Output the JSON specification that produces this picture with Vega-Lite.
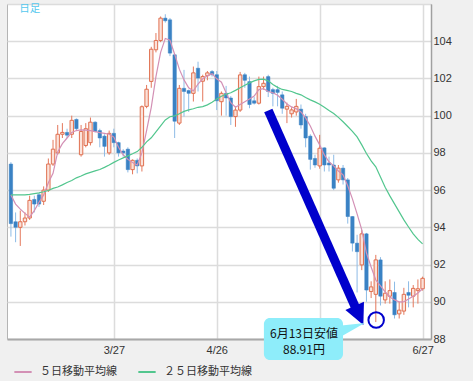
{
  "$schema": "https://vega.github.io/schema/vega-lite/v6.json",
  "width": 424,
  "height": 335,
  "autosize": {"type": "none"},
  "padding": {"left": 7, "top": 4, "right": 42, "bottom": 42},
  "background": "#f0f0f0",
  "config": {
    "view": {"fill": "#ffffff", "stroke": "#b4b4b4", "strokeWidth": 1},
    "font": "Liberation Sans",
    "axis": {"labelOverlap": false, "labelBound": false, "labelFlush": false}
  },
  "datasets": {
    "candles": [
      {"i":0,"o":97.4,"h":97.5,"l":93.5,"c":94.2,"m5":95.74,"m25":95.74},
      {"i":1,"o":94.3,"h":94.8,"l":93.2,"c":94.0,"m5":95.25,"m25":95.74},
      {"i":2,"o":94.0,"h":94.9,"l":93.0,"c":94.3,"m5":94.98,"m25":95.74},
      {"i":3,"o":94.3,"h":94.8,"l":94.1,"c":94.5,"m5":94.75,"m25":95.74},
      {"i":4,"o":94.5,"h":95.7,"l":94.4,"c":95.45,"m5":94.55,"m25":95.77},
      {"i":5,"o":95.5,"h":95.7,"l":94.8,"c":95.25,"m5":94.9,"m25":95.81},
      {"i":6,"o":95.75,"h":95.85,"l":95.1,"c":95.25,"m5":95.35,"m25":95.85},
      {"i":7,"o":95.4,"h":96.2,"l":95.2,"c":96.0,"m5":95.74,"m25":95.91},
      {"i":8,"o":96.0,"h":97.7,"l":95.9,"c":97.4,"m5":96.4,"m25":95.98},
      {"i":9,"o":97.4,"h":98.7,"l":97.3,"c":98.2,"m5":96.9,"m25":96.09},
      {"i":10,"o":98.0,"h":99.5,"l":97.9,"c":99.0,"m5":98.05,"m25":96.17},
      {"i":11,"o":99.0,"h":99.6,"l":98.8,"c":99.1,"m5":98.5,"m25":96.28},
      {"i":12,"o":99.1,"h":99.3,"l":98.8,"c":98.95,"m5":98.8,"m25":96.41},
      {"i":13,"o":99.0,"h":100.0,"l":98.8,"c":99.75,"m5":99.1,"m25":96.52},
      {"i":14,"o":99.8,"h":99.85,"l":99.2,"c":99.3,"m5":99.2,"m25":96.66},
      {"i":15,"o":97.9,"h":99.5,"l":97.8,"c":99.15,"m5":99.24,"m25":96.76},
      {"i":16,"o":98.4,"h":99.6,"l":98.3,"c":99.3,"m5":99.22,"m25":96.87},
      {"i":17,"o":98.55,"h":99.9,"l":98.4,"c":99.65,"m5":99.2,"m25":96.95},
      {"i":18,"o":99.65,"h":99.7,"l":99.1,"c":99.15,"m5":99.14,"m25":97.03},
      {"i":19,"o":99.2,"h":99.3,"l":98.3,"c":98.8,"m5":99.09,"m25":97.11},
      {"i":20,"o":98.9,"h":99.0,"l":97.8,"c":98.35,"m5":99.05,"m25":97.22},
      {"i":21,"o":98.0,"h":99.2,"l":97.9,"c":99.05,"m5":99.0,"m25":97.35},
      {"i":22,"o":99.05,"h":99.3,"l":98.3,"c":98.55,"m5":98.85,"m25":97.49},
      {"i":23,"o":98.55,"h":98.6,"l":97.8,"c":98.0,"m5":98.3,"m25":97.62},
      {"i":24,"o":98.1,"h":98.2,"l":97.8,"c":98.0,"m5":97.9,"m25":97.73},
      {"i":25,"o":98.2,"h":98.3,"l":96.95,"c":97.1,"m5":97.65,"m25":97.84},
      {"i":26,"o":97.1,"h":97.65,"l":96.85,"c":97.6,"m5":97.48,"m25":97.95},
      {"i":27,"o":97.6,"h":97.7,"l":96.9,"c":97.3,"m5":97.35,"m25":98.07},
      {"i":28,"o":97.3,"h":100.55,"l":97.0,"c":100.48,"m5":98.0,"m25":98.3},
      {"i":29,"o":100.5,"h":101.65,"l":100.4,"c":101.42,"m5":99.2,"m25":98.59},
      {"i":30,"o":101.84,"h":103.7,"l":101.5,"c":103.57,"m5":100.45,"m25":98.81},
      {"i":31,"o":103.54,"h":104.44,"l":103.4,"c":104.04,"m5":102.1,"m25":99.13},
      {"i":32,"o":104.04,"h":105.33,"l":103.95,"c":105.24,"m5":103.4,"m25":99.45},
      {"i":33,"o":105.24,"h":105.45,"l":105.0,"c":105.1,"m5":104.15,"m25":99.77},
      {"i":34,"o":105.15,"h":105.25,"l":103.2,"c":103.36,"m5":104.05,"m25":99.94},
      {"i":35,"o":103.27,"h":103.3,"l":98.8,"c":99.7,"m5":103.3,"m25":99.99},
      {"i":36,"o":99.6,"h":101.65,"l":99.5,"c":101.47,"m5":102.5,"m25":100.1},
      {"i":37,"o":101.47,"h":102.46,"l":99.95,"c":101.3,"m5":101.92,"m25":100.23},
      {"i":38,"o":101.35,"h":101.4,"l":100.2,"c":101.2,"m5":101.5,"m25":100.31},
      {"i":39,"o":101.2,"h":102.64,"l":100.76,"c":102.3,"m5":101.33,"m25":100.37},
      {"i":40,"o":102.55,"h":102.9,"l":101.3,"c":102.02,"m5":101.7,"m25":100.45},
      {"i":41,"o":101.85,"h":102.2,"l":100.76,"c":102.1,"m5":101.98,"m25":100.49},
      {"i":42,"o":102.15,"h":102.4,"l":101.9,"c":102.3,"m5":102.14,"m25":100.58},
      {"i":43,"o":102.37,"h":102.45,"l":102.1,"c":102.2,"m5":102.25,"m25":100.72},
      {"i":44,"o":102.2,"h":102.4,"l":100.3,"c":100.8,"m5":101.98,"m25":100.9},
      {"i":45,"o":100.75,"h":101.3,"l":100.0,"c":101.2,"m5":101.8,"m25":101.04},
      {"i":46,"o":101.2,"h":101.6,"l":100.0,"c":100.95,"m5":101.23,"m25":101.15},
      {"i":47,"o":100.95,"h":101.05,"l":99.5,"c":99.95,"m5":100.7,"m25":101.23},
      {"i":48,"o":99.95,"h":100.5,"l":99.4,"c":100.3,"m5":100.45,"m25":101.36},
      {"i":49,"o":100.3,"h":102.35,"l":100.2,"c":102.19,"m5":100.6,"m25":101.5},
      {"i":50,"o":102.2,"h":102.3,"l":101.5,"c":101.9,"m5":100.75,"m25":101.63},
      {"i":51,"o":101.83,"h":102.1,"l":100.4,"c":100.6,"m5":100.9,"m25":101.76},
      {"i":52,"o":100.8,"h":101.0,"l":100.6,"c":100.67,"m5":101.05,"m25":101.87},
      {"i":53,"o":100.67,"h":102.1,"l":100.6,"c":101.56,"m5":101.4,"m25":101.95},
      {"i":54,"o":101.56,"h":102.1,"l":101.4,"c":101.74,"m5":101.45,"m25":101.96},
      {"i":55,"o":102.1,"h":102.2,"l":101.0,"c":101.3,"m5":101.3,"m25":101.87},
      {"i":56,"o":101.4,"h":101.5,"l":100.5,"c":101.2,"m5":101.23,"m25":101.68},
      {"i":57,"o":101.4,"h":101.6,"l":100.5,"c":101.25,"m5":101.1,"m25":101.52},
      {"i":58,"o":101.12,"h":101.3,"l":100.1,"c":100.4,"m5":100.88,"m25":101.41},
      {"i":59,"o":100.35,"h":100.7,"l":99.6,"c":100.5,"m5":100.63,"m25":101.36},
      {"i":60,"o":100.1,"h":100.45,"l":99.9,"c":100.31,"m5":100.47,"m25":101.3},
      {"i":61,"o":100.2,"h":100.9,"l":100.0,"c":100.5,"m5":100.37,"m25":101.2},
      {"i":62,"o":100.35,"h":100.6,"l":99.3,"c":99.5,"m5":100.2,"m25":101.12},
      {"i":63,"o":99.95,"h":100.1,"l":98.3,"c":98.8,"m5":99.88,"m25":100.98},
      {"i":64,"o":98.9,"h":99.0,"l":97.1,"c":97.65,"m5":99.45,"m25":100.85},
      {"i":65,"o":97.7,"h":97.9,"l":97.2,"c":97.35,"m5":98.9,"m25":100.74},
      {"i":66,"o":97.3,"h":98.97,"l":97.15,"c":98.25,"m5":98.43,"m25":100.61},
      {"i":67,"o":98.27,"h":98.3,"l":97.0,"c":97.35,"m5":97.89,"m25":100.45},
      {"i":68,"o":97.46,"h":97.8,"l":97.0,"c":97.35,"m5":97.52,"m25":100.28},
      {"i":69,"o":97.35,"h":97.9,"l":96.0,"c":96.1,"m5":97.3,"m25":100.12},
      {"i":70,"o":96.55,"h":97.35,"l":96.4,"c":97.18,"m5":97.03,"m25":99.91},
      {"i":71,"o":97.18,"h":97.35,"l":96.3,"c":96.55,"m5":96.82,"m25":99.67},
      {"i":72,"o":96.55,"h":96.65,"l":94.2,"c":94.58,"m5":96.23,"m25":99.42},
      {"i":73,"o":94.58,"h":94.6,"l":92.7,"c":93.15,"m5":95.53,"m25":99.16},
      {"i":74,"o":93.15,"h":93.6,"l":90.5,"c":92.69,"m5":94.72,"m25":98.86},
      {"i":75,"o":91.98,"h":93.85,"l":91.7,"c":93.65,"m5":93.86,"m25":98.43},
      {"i":76,"o":93.65,"h":93.7,"l":90.0,"c":90.63,"m5":92.62,"m25":97.97},
      {"i":77,"o":90.55,"h":91.1,"l":90.2,"c":90.8,"m5":91.87,"m25":97.57},
      {"i":78,"o":90.4,"h":92.52,"l":88.91,"c":92.25,"m5":91.17,"m25":97.25},
      {"i":79,"o":92.25,"h":92.4,"l":89.8,"c":90.3,"m5":90.85,"m25":96.71},
      {"i":80,"o":90.1,"h":91.1,"l":89.9,"c":90.46,"m5":90.53,"m25":96.15},
      {"i":81,"o":90.3,"h":91.2,"l":89.9,"c":90.6,"m5":90.26,"m25":95.69},
      {"i":82,"o":90.5,"h":91.08,"l":89.1,"c":89.3,"m5":90.1,"m25":95.26},
      {"i":83,"o":89.35,"h":90.0,"l":89.1,"c":89.55,"m5":90.0,"m25":94.83},
      {"i":84,"o":89.5,"h":90.75,"l":89.3,"c":90.4,"m5":90.0,"m25":94.4},
      {"i":85,"o":90.5,"h":91.1,"l":89.7,"c":90.35,"m5":90.15,"m25":94.02},
      {"i":86,"o":90.3,"h":90.9,"l":89.7,"c":90.72,"m5":90.3,"m25":93.65},
      {"i":87,"o":90.6,"h":91.2,"l":89.9,"c":90.7,"m5":90.47,"m25":93.35},
      {"i":88,"o":90.7,"h":91.35,"l":90.6,"c":91.26,"m5":90.7,"m25":93.11}
    ],
    "arrow": [{"i":55.02,"v":100.28,"i2":74.28,"v2":89.34}],
    "circle": [{"i":78.08,"v":89.02}],
    "box": [{"i":54.08,"i2":70.99,"v":89.13,"v2":86.87}],
    "tail": [{"i":72.66,"v":88.43}],
    "note": [{"i":62.64,"v":88.27,"t":"6月13日安値"},{"i":62.64,"v":87.41,"t":"88.91円"}],
    "tag": [{"i":4.0,"v":105.73,"t":"日足"}]
  },
  "layer": [
    {
      "data": {"name": "candles"},
      "mark": {"type": "rule", "strokeWidth": 1},
      "encoding": {
        "x": {"field": "i", "type": "quantitative", "title": null,
          "scale": {"domain": [0.23, 88.73], "nice": false, "zero": false},
          "axis": {"values": [22, 44, 66, 88], "tickCount": 40, "labelExpr": "datum.value == 22 ? '3/27' : datum.value == 44 ? '4/26' : datum.value == 88 ? '6/27' : ''",
            "grid": true, "gridColor": "#dcdcdc", "gridWidth": 1.5, "ticks": false, "domain": true, "domainColor": "#a8a8a8", "domainWidth": 2,
            "labelFont": "Liberation Sans", "labelFontSize": 11, "labelColor": "#333333", "labelPadding": 5, "labelFlush": false, "labelOverlap": false, "zindex": 0}},
        "y": {"field": "l", "type": "quantitative", "title": null,
          "scale": {"domain": [88, 106], "nice": false, "zero": false},
          "axis": {"orient": "right", "values": [88, 90, 92, 94, 96, 98, 100, 102, 104, 106], "tickCount": 40, "format": "d", "labelExpr": "datum.value == 106 ? '' : datum.label",
            "grid": true, "gridColor": "#dcdcdc", "gridWidth": 1.5, "ticks": false, "domain": true, "domainColor": "#a0a0a0", "domainWidth": 1.5,
            "labelFont": "Liberation Sans", "labelFontSize": 11, "labelColor": "#333333", "labelPadding": 2, "labelFlush": false, "labelOverlap": false, "labelBound": false, "zindex": 0}},
        "y2": {"field": "h"},
        "color": {"condition": {"test": "datum.c >= datum.o", "value": "#e4785c"}, "value": "#8dbbe6"}
      }
    },
    {
      "data": {"name": "candles"},
      "mark": {"type": "bar", "width": 3.4},
      "encoding": {
        "x": {"field": "i", "type": "quantitative", "title": null, "scale": {"domain": [0.23, 88.73], "nice": false, "zero": false}},
        "y": {"field": "o", "type": "quantitative", "title": null, "scale": {"domain": [88, 106], "nice": false, "zero": false}},
        "y2": {"field": "c"},
        "fill": {"condition": {"test": "datum.c >= datum.o", "value": "#fbe2da"}, "value": "#3a82c4"},
        "stroke": {"condition": {"test": "datum.c >= datum.o", "value": "#e07050"}, "value": "#3a82c4"},
        "strokeWidth": {"condition": {"test": "datum.c >= datum.o", "value": 1}, "value": 0.5}
      }
    },
    {
      "data": {"name": "candles"},
      "transform": [{"fold": ["m5", "m25"], "as": ["s", "v"]}],
      "mark": {"type": "line", "strokeWidth": 1.2},
      "encoding": {
        "x": {"field": "i", "type": "quantitative", "title": null, "scale": {"domain": [0.23, 88.73], "nice": false, "zero": false}},
        "y": {"field": "v", "type": "quantitative", "title": null, "scale": {"domain": [88, 106], "nice": false, "zero": false}},
        "color": {"field": "s", "type": "nominal",
          "scale": {"domain": ["m5", "m25"], "range": ["#d390b5", "#52c68e"]},
          "legend": {"orient": "none", "legendX": 6, "legendY": 358, "direction": "horizontal", "title": null,
            "symbolType": "stroke", "symbolStrokeWidth": 2, "symbolSize": 300,
            "labelExpr": "datum.value == 'm5' ? '５日移動平均線' : '２５日移動平均線'",
            "labelFont": "Noto Sans CJK JP", "labelFontSize": 11, "labelColor": "#333333", "labelOffset": 7, "columnPadding": 17, "padding": 0}}
      }
    },
    {
      "data": {"name": "arrow"},
      "mark": {"type": "rule", "strokeWidth": 9, "color": "#0000cc"},
      "encoding": {
        "x": {"field": "i", "type": "quantitative", "title": null, "scale": {"domain": [0.23, 88.73], "nice": false, "zero": false}},
        "x2": {"field": "i2"},
        "y": {"field": "v", "type": "quantitative", "title": null, "scale": {"domain": [88, 106], "nice": false, "zero": false}},
        "y2": {"field": "v2"}
      }
    },
    {
      "data": {"name": "arrow"},
      "mark": {"type": "point", "shape": "M0,1L-0.85,-0.75L0.85,-0.75Z", "size": 576, "filled": true, "opacity": 1, "color": "#0000cc", "angle": 335.6},
      "encoding": {
        "x": {"field": "i2", "type": "quantitative", "title": null, "scale": {"domain": [0.23, 88.73], "nice": false, "zero": false}},
        "y": {"field": "v2", "type": "quantitative", "title": null, "scale": {"domain": [88, 106], "nice": false, "zero": false}}
      }
    },
    {
      "data": {"name": "circle"},
      "mark": {"type": "point", "shape": "circle", "size": 240, "filled": false, "opacity": 1, "strokeWidth": 2, "color": "#0000cc"},
      "encoding": {
        "x": {"field": "i", "type": "quantitative", "title": null, "scale": {"domain": [0.23, 88.73], "nice": false, "zero": false}},
        "y": {"field": "v", "type": "quantitative", "title": null, "scale": {"domain": [88, 106], "nice": false, "zero": false}}
      }
    },
    {
      "data": {"name": "box"},
      "mark": {"type": "rect", "fill": "#8eedfa", "cornerRadius": 6},
      "encoding": {
        "x": {"field": "i", "type": "quantitative", "title": null, "scale": {"domain": [0.23, 88.73], "nice": false, "zero": false}},
        "x2": {"field": "i2"},
        "y": {"field": "v", "type": "quantitative", "title": null, "scale": {"domain": [88, 106], "nice": false, "zero": false}},
        "y2": {"field": "v2"}
      }
    },
    {
      "data": {"name": "tail"},
      "mark": {"type": "point", "shape": "M-1,-0.36L1,-0.57L-1,0.57Z", "size": 784, "filled": true, "opacity": 1, "color": "#8eedfa"},
      "encoding": {
        "x": {"field": "i", "type": "quantitative", "title": null, "scale": {"domain": [0.23, 88.73], "nice": false, "zero": false}},
        "y": {"field": "v", "type": "quantitative", "title": null, "scale": {"domain": [88, 106], "nice": false, "zero": false}}
      }
    },
    {
      "data": {"name": "note"},
      "mark": {"type": "text", "font": "Noto Sans CJK JP", "fontSize": 12, "color": "#111111", "align": "center", "baseline": "middle"},
      "encoding": {
        "x": {"field": "i", "type": "quantitative", "title": null, "scale": {"domain": [0.23, 88.73], "nice": false, "zero": false}},
        "y": {"field": "v", "type": "quantitative", "title": null, "scale": {"domain": [88, 106], "nice": false, "zero": false}},
        "text": {"field": "t"}
      }
    },
    {
      "data": {"name": "tag"},
      "mark": {"type": "text", "font": "Noto Sans CJK JP", "fontSize": 10.5, "color": "#55c8ee", "align": "center", "baseline": "middle"},
      "encoding": {
        "x": {"field": "i", "type": "quantitative", "title": null, "scale": {"domain": [0.23, 88.73], "nice": false, "zero": false}},
        "y": {"field": "v", "type": "quantitative", "title": null, "scale": {"domain": [88, 106], "nice": false, "zero": false}},
        "text": {"field": "t"}
      }
    }
  ]
}
